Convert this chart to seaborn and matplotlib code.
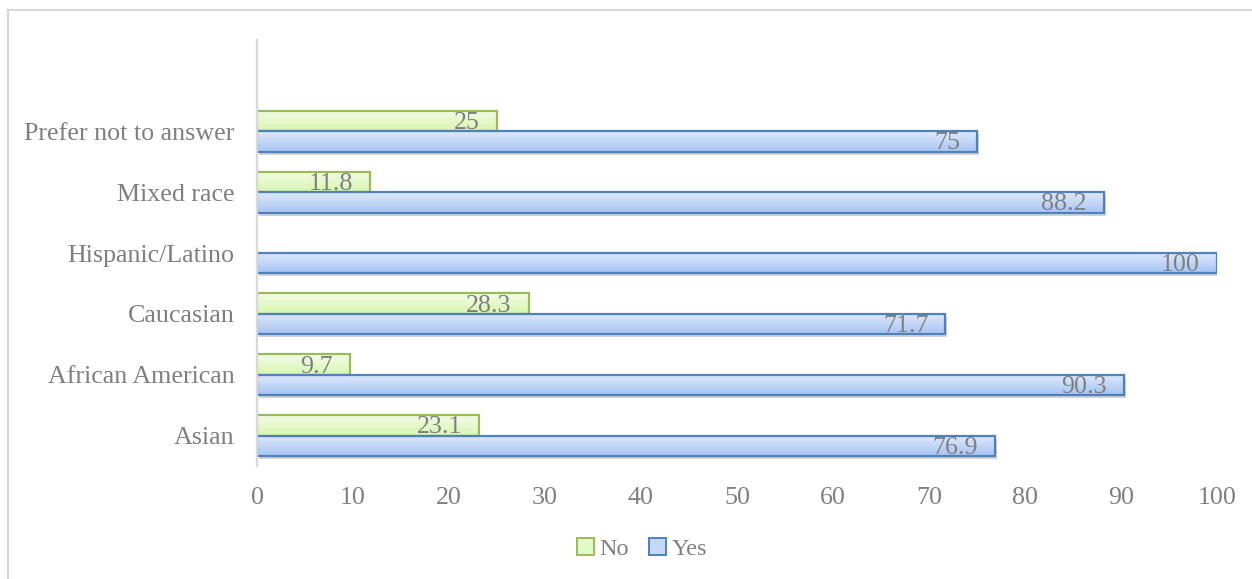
import numpy as np
import pandas as pd
import matplotlib
matplotlib.use("Agg")
import matplotlib.pyplot as plt
import matplotlib.patheffects as pe
from matplotlib.colors import LinearSegmentedColormap
from matplotlib.patches import Patch, Rectangle
import seaborn as sns

# Survey answers by race/ethnicity (percent)
groups = ["Prefer not to answer", "Mixed race", "Hispanic/Latino",
          "Caucasian", "African American", "Asian"]
no_pct = [25, 11.8, None, 28.3, 9.7, 23.1]
yes_pct = [75, 88.2, 100, 71.7, 90.3, 76.9]
answers = ["No", "Yes"]
x_ticks = [0, 10, 20, 30, 40, 50, 60, 70, 80, 90, 100]

rows = []
for g, n, y in zip(groups, no_pct, yes_pct):
    if n is not None:
        rows.append({"group": g, "answer": "No", "pct": n})
    rows.append({"group": g, "answer": "Yes", "pct": y})
df = pd.DataFrame(rows)

sns.set_theme(style="white")
plt.rcParams["font.family"] = ["Liberation Serif", "DejaVu Serif"]
TEXT = "#7f7f7f"
FS = 18.7

styles = {
    "No": {"edge": "#9bbb59", "top": "#f3fde8", "bottom": "#d8f5ae", "face": "#e4f9c8"},
    "Yes": {"edge": "#4f81bd", "top": "#dfeafc", "bottom": "#a6c4f2", "face": "#c4d8f8"},
}

fig = plt.figure(figsize=(12.52, 5.79), dpi=100)
ax = fig.add_axes([257 / 1252, 1 - 466 / 579, (1217 - 257) / 1252, (466 - 40) / 579])

sns.barplot(data=df, y="group", x="pct", hue="answer", order=groups,
            hue_order=answers, orient="h", width=0.67, dodge=True,
            palette=[styles[a]["face"] for a in answers], ax=ax,
            legend=False, errorbar=None, saturation=1)

ax.set_xlim(0, 100)
ax.set_ylim(5.5, -1.5)

for cont, ans in zip(ax.containers, answers):
    st = styles[ans]
    cmap = LinearSegmentedColormap.from_list(ans, [st["top"], st["bottom"]])
    grad = np.linspace(0, 1, 64).reshape(-1, 1)
    for bar in cont:
        w = bar.get_width()
        if not np.isfinite(w) or w == 0:
            continue
        x0, y0 = bar.get_x(), bar.get_y()
        h = bar.get_height()
        bar.set_edgecolor("none")
        bar.set_zorder(2)
        if ans == "Yes":
            bar.set_path_effects([pe.SimplePatchShadow(offset=(1.5, -2.2),
                                                       shadow_rgbFace="#808080",
                                                       alpha=0.35),
                                  pe.Normal()])
        im = ax.imshow(grad, cmap=cmap, aspect="auto", interpolation="bilinear",
                       extent=[x0, x0 + w, y0 + h, y0], zorder=2.1)
        im.set_clip_path(bar)
        ax.add_patch(Rectangle((x0, y0), w, h, fill=False,
                               edgecolor=st["edge"], linewidth=1.6, zorder=2.2))
        ax.annotate(f"{w:g}", xy=(x0 + w, y0 + h / 2), xytext=(-17, -2),
                    textcoords="offset pixels", ha="right", va="center",
                    fontsize=FS, color=TEXT, zorder=3)

ax.set_xlim(0, 100)
ax.set_ylim(5.5, -1.5)
ax.set_xticks(x_ticks)
ax.set_xlabel("")
ax.set_ylabel("")
ax.tick_params(axis="both", length=0, labelsize=FS, labelcolor=TEXT)
ax.tick_params(axis="y", pad=16)
ax.tick_params(axis="x", pad=15)
for s in ["top", "right", "bottom"]:
    ax.spines[s].set_visible(False)
ax.spines["left"].set_color("#d9d9d9")
ax.spines["left"].set_linewidth(1.6)
ax.spines["left"].set_zorder(5)

handles = [Patch(facecolor=styles[a]["face"], edgecolor=styles[a]["edge"],
                 linewidth=1.4, label=a) for a in answers]
fig.legend(handles=handles, loc="center", bbox_to_anchor=(642 / 1252, 1 - 549 / 579),
           ncol=2, frameon=False, fontsize=17.5, labelcolor=TEXT,
           handlelength=0.7, handleheight=0.7, handletextpad=0.25,
           columnspacing=0.8)

# light frame around the chart area
fig.patches.append(Rectangle((7.5 / 1252, -0.05), 1.1, 1 - 9.5 / 579 + 0.05,
                             transform=fig.transFigure, fill=False,
                             edgecolor="#d9d9d9", linewidth=1.6))

fig.savefig("out.png", dpi=100)
